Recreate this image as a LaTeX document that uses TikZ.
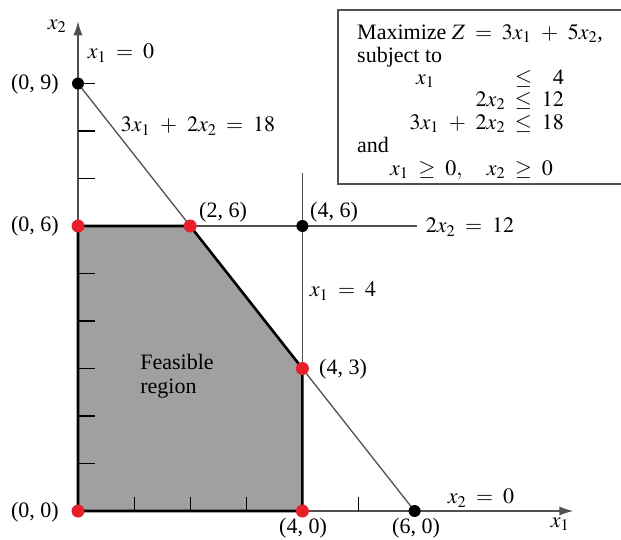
\documentclass[tikz,border=0pt]{standalone}
\usepackage{mathptmx}
\usepackage{fontspec}
\setmainfont{Liberation Serif}
\usetikzlibrary{arrows.meta}
\definecolor{dotred}{HTML}{E8202A}
\definecolor{linegray}{HTML}{505050}
\definecolor{regiongray}{HTML}{A0A0A0}
\medmuskip=8mu plus 2mu minus 2mu
\thickmuskip=8mu plus 2mu
\tikzset{
  thinline/.style={draw=linegray, line width=1.3pt},
  thickline/.style={draw=black, line width=2.6pt, line join=miter},
  tick/.style={draw=black, line width=1.1pt},
  reddot/.style={circle, fill=dotred, inner sep=0pt, minimum size=13pt},
  blackdot/.style={circle, fill=black, inner sep=0pt, minimum size=12pt},
  lbl/.style={inner sep=0pt},
  boxline/.style={inner sep=0pt, anchor=base west},
}
\begin{document}
\begin{tikzpicture}[x=1pt, y=-1pt, font=\fontsize{22}{24}\selectfont]
\useasboundingbox (0,0) rectangle (621,539);
% data coordinates
\begin{scope}[shift={(78pt,-511pt)}, x=56.1pt, y=47.5pt]
  \coordinate (O) at (0,0);
  \coordinate (P06) at (0,6);
  \coordinate (P26) at (2,6);
  \coordinate (P43) at (4,3);
  \coordinate (P40) at (4,0);
  \coordinate (P46) at (4,6);
  \coordinate (P60) at (6,0);
  \coordinate (P09) at (0,9);
  \coordinate (Hend) at (6.04,6);
  \coordinate (Vtop) at (4,7.12);
  \coordinate (Ytop) at (0,10.31);
  \coordinate (Xend) at (8.83,0);
  \fill[regiongray] (O) -- (P06) -- (P26) -- (P43) -- (P40) -- cycle;
  % constraint lines
  \draw[thinline] (P09) -- (P60);
  \draw[thinline] (P06) -- (Hend);
  \draw[thinline] (P40) -- (Vtop);
  % axes
  \draw[thinline, -{Latex[length=14pt,width=9pt]}] (O) -- (Ytop);
  \draw[thinline, -{Latex[length=14pt,width=9pt]}] (O) -- (Xend);
  % ticks
  \foreach \k in {1,...,9} \draw[tick] (0,\k) -- (0.3,\k);
  \foreach \k in {1,2,3,5} \draw[tick] (\k,0) -- (\k,0.29);
  % feasible boundary
  \draw[thickline] (O) -- (P06) -- (P26) -- (P43) -- (P40) -- cycle;
  % dots
  \node[reddot] (d00) at (O) {};
  \node[reddot] (d06) at (P06) {};
  \node[reddot] (d26) at (P26) {};
  \node[reddot] (d43) at (P43) {};
  \node[reddot] (d40) at (P40) {};
  \node[blackdot] (d09) at (P09) {};
  \node[blackdot] (d46) at (P46) {};
  \node[blackdot] (d60) at (P60) {};
\end{scope}
% labels (pixel coordinates)
\node[lbl] (lx2) at (57,26) {$x_2$};
\node[lbl] (lx10) at (121,53) {$x_1 = 0$};
\node[lbl] (l09) at (35,84) {(0, 9)};
\node[lbl] (lc3) at (198,126) {$3x_1 + 2x_2 = 18$};
\node[lbl] (l06) at (35,226) {(0, 6)};
\node[lbl] (l26) at (223,212) {(2, 6)};
\node[lbl] (l46) at (334,212) {(4, 6)};
\node[lbl] (lc2) at (470,227) {$2x_2 = 12$};
\node[lbl] (lx14) at (343,291) {$x_1 = 4$};
\node[lbl] (l43) at (343,369) {(4, 3)};
\node[lbl, align=left] (lfr) at (177,376) {Feasible\\region};
\node[lbl] (l00) at (35,512) {(0, 0)};
\node[lbl] (l40) at (303,528) {(4, 0)};
\node[lbl] (l60) at (416,528) {(6, 0)};
\node[lbl] (lx20) at (481,498) {$x_2 = 0$};
\node[lbl] (lx1) at (560,524) {$x_1$};
% problem box
\draw[draw=linegray, line width=1.4pt] (338,10) rectangle (640,184);
\node[boxline] (b1) at (357,39) {Maximize $Z = 3x_1 + 5x_2$,};
\node[boxline] (b2) at (357,62) {subject to};
\node[boxline] (b3a) at (416,84) {$x_1$};
\node[boxline] (b3b) at (515,84) {$\le$};
\node[boxline, anchor=base east] (b3c) at (564,84) {4};
\node[boxline, anchor=base east] (b4) at (564,106) {$2x_2 \le 12$};
\node[boxline, anchor=base east] (b5) at (564,129) {$3x_1 + 2x_2 \le 18$};
\node[boxline] (b6) at (357,152) {and};
\node[boxline] (b7) at (390,175) {$x_1 \ge 0,\quad x_2 \ge 0$};
\end{tikzpicture}
\end{document}
